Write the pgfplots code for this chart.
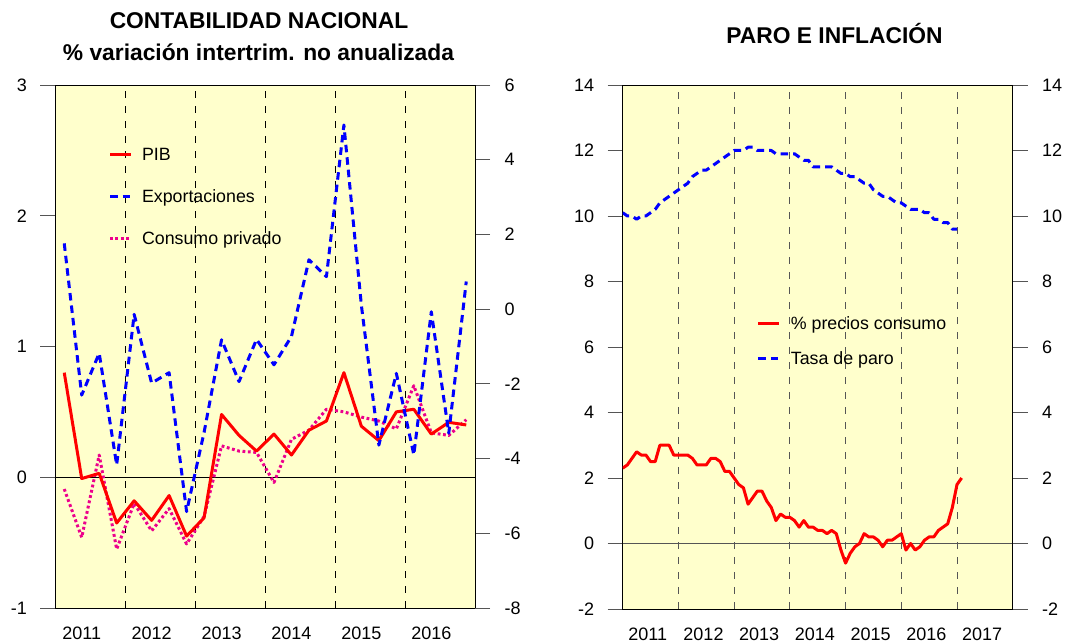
\documentclass[border=0pt]{standalone}
\usepackage{pgfplots}
\pgfplotsset{compat=1.18}
\usepackage{fontspec}
\setmainfont{Liberation Sans}
\definecolor{bgy}{RGB}{255,255,204}
\definecolor{tickgray}{RGB}{85,85,85}

\pgfplotstableread{
i pib cons exp
1 0.80 -0.09 1.76
2 -0.01 -0.46 -2.30
3 0.03 0.17 -1.18
4 -0.35 -0.55 -4.17
5 -0.18 -0.20 -0.14
6 -0.33 -0.41 -1.98
7 -0.14 -0.24 -1.70
8 -0.45 -0.51 -5.42
9 -0.31 -0.30 -3.30
10 0.48 0.24 -0.82
11 0.32 0.20 -1.94
12 0.20 0.19 -0.81
13 0.33 -0.04 -1.49
14 0.17 0.29 -0.73
15 0.36 0.36 1.32
16 0.43 0.52 0.87
17 0.80 0.50 4.93
18 0.39 0.46 0.10
19 0.28 0.43 -3.64
20 0.50 0.37 -1.72
21 0.52 0.70 -3.90
22 0.33 0.34 -0.07
23 0.42 0.32 -3.32
24 0.40 0.44 0.74
}\cnTable

\pgfplotstableread{
m v
0 2.3
1 2.4
2 2.6
3 2.8
4 2.7
5 2.7
6 2.5
7 2.5
8 3.0
9 3.0
10 3.0
11 2.7
12 2.7
13 2.7
14 2.7
15 2.6
16 2.4
17 2.4
18 2.4
19 2.6
20 2.6
21 2.5
22 2.2
23 2.2
24 2.0
25 1.8
26 1.7
27 1.2
28 1.4
29 1.6
30 1.6
31 1.3
32 1.1
33 0.7
34 0.9
35 0.8
36 0.8
37 0.7
38 0.5
39 0.7
40 0.5
41 0.5
42 0.4
43 0.4
44 0.3
45 0.4
46 0.3
47 -0.2
48 -0.6
49 -0.3
50 -0.1
51 0.0
52 0.3
53 0.2
54 0.2
55 0.1
56 -0.1
57 0.1
58 0.1
59 0.2
60 0.3
61 -0.2
62 0.0
63 -0.2
64 -0.1
65 0.1
66 0.2
67 0.2
68 0.4
69 0.5
70 0.6
71 1.1
72 1.8
73 2.0
}\ipcTable

\pgfplotstableread{
m v
0 10.1
1 10.0
2 10.0
3 9.9
4 10.0
5 10.0
6 10.1
7 10.2
8 10.4
9 10.5
10 10.6
11 10.7
12 10.8
13 10.9
14 11.0
15 11.2
16 11.3
17 11.4
18 11.4
19 11.5
20 11.6
21 11.7
22 11.8
23 11.9
24 12.0
25 12.0
26 12.0
27 12.1
28 12.1
29 12.0
30 12.0
31 12.0
32 12.0
33 11.9
34 11.9
35 11.9
36 11.9
37 11.9
38 11.8
39 11.7
40 11.7
41 11.5
42 11.5
43 11.5
44 11.5
45 11.5
46 11.4
47 11.3
48 11.3
49 11.2
50 11.2
51 11.1
52 11.0
53 11.0
54 10.8
55 10.7
56 10.6
57 10.6
58 10.5
59 10.4
60 10.4
61 10.3
62 10.2
63 10.2
64 10.2
65 10.1
66 10.1
67 9.9
68 9.9
69 9.8
70 9.8
71 9.6
72 9.6
}\paroTable

\pgfplotsset{
  base/.style={
    scale only axis, anchor=south west,
    tick align=outside, major tick length=15bp,
    tick style={tickgray, line width=0.8bp},
    axis line style={black, line width=0.8bp},
    ticklabel style={font=\fontsize{18bp}{20bp}\selectfont},
    xtick style={draw=none},
    legend cell align=left,
    legend image code/.code={\draw[#1] (0bp,1.5bp) -- (21bp,1.5bp);},
  },
  lefttl/.style={yticklabel style={xshift=-10bp}},
  righttl/.style={yticklabel style={xshift=11bp}},
  ser/.style={line width=3bp, line join=round},
}

\begin{document}
\begin{tikzpicture}[x=1bp,y=1bp]
\path[use as bounding box] (0,0) rectangle (1091,643);

% titles
\node[anchor=base, font=\bfseries\fontsize{22.8bp}{24bp}\selectfont] at (259,614.7) {CONTABILIDAD NACIONAL};
\node[anchor=base, font=\bfseries\fontsize{22.8bp}{24bp}\selectfont] at (258.5,582.3) {\% variación intertrim. no anualizada};
\node[anchor=base, font=\bfseries\fontsize{22.8bp}{24bp}\selectfont] at (834.5,599.7) {PARO E INFLACIÓN};

% ---------- left panel, left axis
\begin{axis}[base, lefttl, at={(55.5bp,35bp)}, width=419.5bp, height=523bp,
  xmin=0.5, xmax=24.5, ymin=-1, ymax=3,
  ytick={-1,0,1,2,3}, yticklabels={-1,0,1,2,3}, ytick pos=left,
  xtick={2,6,10,14,18,22}, xticklabels={2011,2012,2013,2014,2015,2016}, xtick pos=bottom,
  axis background/.style={fill=bgy},
  extra x ticks={4.5,8.5,12.5,16.5,20.5}, extra x tick labels={},
  extra x tick style={grid=major, major grid style={black, line width=0.8bp, dash pattern=on 7bp off 8bp}},
]
\draw[black, line width=0.8bp] (axis cs:0.5,0) -- (axis cs:24.5,0);
\addplot[magenta, ser, dash pattern=on 2.8bp off 2.6bp] table[x=i,y=cons] {\cnTable};
\addplot[red, ser] table[x=i,y=pib] {\cnTable};
\end{axis}

% ---------- left panel, right axis
\begin{axis}[base, righttl, at={(55.5bp,35bp)}, width=419.5bp, height=523bp,
  xmin=0.5, xmax=24.5, ymin=-8, ymax=6,
  axis x line=none, axis y line*=right,
  ytick={-8,-6,-4,-2,0,2,4,6}, yticklabels={-8,-6,-4,-2,0,2,4,6}, ytick pos=right,
  legend style={at={(axis description cs:0.1259,0.8807)}, anchor=north west,
    draw=none, fill=none, inner sep=0pt, row sep=25bp,
    font=\fontsize{17.8bp}{20bp}\selectfont,
    nodes={inner sep=0pt, text height=13bp, text depth=4bp},
    /tikz/every odd column/.style={column sep=9.5bp}},
]
\addlegendimage{red, ser}
\addlegendentry{PIB}
\addplot[blue, ser, dash pattern=on 7.5bp off 5bp] table[x=i,y=exp] {\cnTable};
\addlegendentry{Exportaciones}
\addlegendimage{magenta, ser, dash pattern=on 2.8bp off 2.6bp}
\addlegendentry{Consumo privado}
\end{axis}

% ---------- right panel, left axis
\begin{axis}[base, lefttl, at={(622.7bp,34bp)}, width=390bp, height=524bp,
  xmin=0, xmax=84, ymin=-2, ymax=14,
  ytick={-2,0,2,4,6,8,10,12,14}, yticklabels={-2,0,2,4,6,8,10,12,14}, ytick pos=left,
  xtick={5.4,17.4,29.4,41.4,53.4,65.4,77.4}, xticklabels={2011,2012,2013,2014,2015,2016,2017}, xtick pos=bottom,
  axis background/.style={fill=bgy},
  extra x ticks={12,24,36,48,60,72}, extra x tick labels={},
  extra x tick style={grid=major, major grid style={tickgray, line width=0.8bp, dash pattern=on 7bp off 8bp}},
]
\draw[tickgray, line width=0.8bp] (axis cs:0,0) -- (axis cs:84,0);
\addplot[red, ser] table[x=m,y=v] {\ipcTable};
\end{axis}

% ---------- right panel, right axis
\begin{axis}[base, righttl, at={(622.7bp,34bp)}, width=390bp, height=524bp,
  xmin=0, xmax=84, ymin=-2, ymax=14,
  axis x line=none, axis y line*=right,
  ytick={-2,0,2,4,6,8,10,12,14}, yticklabels={-2,0,2,4,6,8,10,12,14}, ytick pos=right,
  legend style={at={(axis description cs:0.3436,0.558)}, anchor=north west,
    draw=none, fill=none, inner sep=0pt, row sep=18bp,
    font=\fontsize{17.8bp}{20bp}\selectfont,
    nodes={inner sep=0pt, text height=13bp, text depth=4bp},
    /tikz/every odd column/.style={column sep=10bp}},
]
\addlegendimage{red, ser}
\addlegendentry{\% precios consumo}
\addplot[blue, ser, dash pattern=on 7.5bp off 5bp] table[x=m,y=v] {\paroTable};
\addlegendentry{Tasa de paro}
\end{axis}
\end{tikzpicture}
\end{document}
